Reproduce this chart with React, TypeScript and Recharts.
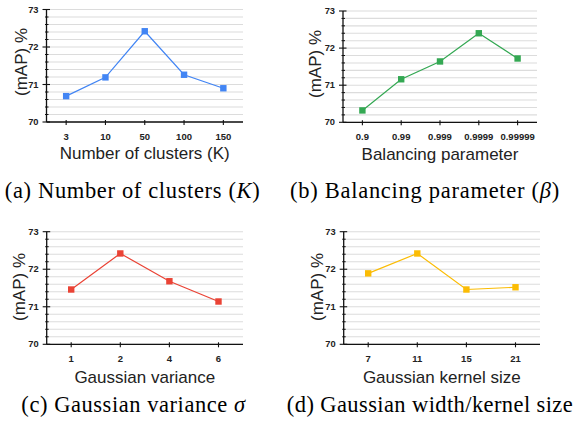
import React from 'react';
import { LineChart, Line, XAxis, YAxis, CartesianGrid } from 'recharts';

const clusterCats = ['3', '10', '50', '100', '150'];
const clusterMap = [70.69, 71.19, 72.42, 71.26, 70.9];

const balanceCats = ['0.9', '0.99', '0.999', '0.9999', '0.99999'];
const balanceMap = [70.32, 71.16, 71.64, 72.4, 71.72];

const varianceCats = ['1', '2', '4', '6'];
const varianceMap = [71.46, 72.42, 71.68, 71.14];

const kernelCats = ['7', '11', '15', '21'];
const kernelMap = [71.89, 72.42, 71.46, 71.52];

const yTicks = [70, 70.2, 70.4, 70.6, 70.8, 71, 71.2, 71.4, 71.6, 71.8, 72, 72.2, 72.4, 72.6, 72.8, 73];
const yMajorLabels = ['70', '71', '72', '73'];

const yTitle = '(mAP) %';

const SANS = 'Arial, "Liberation Sans", Arimo, Helvetica, sans-serif';
const SERIF = '"Times New Roman", "Liberation Serif", Tinos, "Nimbus Roman", Times, serif';

type Panel = {
  left: number; top: number; yw: number; mt: number; mr: number; xh: number; pad: number;
  cats: string[]; vals: number[]; color: string; xTitle: string;
  xtx: number; xty: number; ytx: number; yty: number;
};

const build = (cats: string[], vals: number[]) => cats.map((c, i) => ({ cat: c, v: vals[i] }));

const YTick = (props: any) => {
  const { x, y, payload } = props;
  const ax = x + 8;
  const v = payload.value as number;
  const major = Math.abs(v - Math.round(v)) < 1e-6;
  const idx = major ? Math.round(v) - 70 : -1;
  return (
    <g>
      {major ? (
        <line x1={ax - 4} x2={ax + 3.5} y1={y} y2={y} stroke="#111" strokeWidth={1.1} />
      ) : (
        <line x1={ax - 1.5} x2={ax + 2} y1={y} y2={y} stroke="#111" strokeWidth={1} />
      )}
      {major && (
        <text x={ax - 8} y={y} textAnchor="end" dominantBaseline="central" fontFamily={SANS} fontWeight="bold" fontSize={9.3} fill="#222">
          {yMajorLabels[idx]}
        </text>
      )}
    </g>
  );
};

const XTick = (props: any) => {
  const { x, y, payload } = props;
  return (
    <g>
      <line x1={x} x2={x} y1={y - 2} y2={y + 3} stroke="#111" strokeWidth={1.1} />
      <text x={x} y={y + 14} textAnchor="middle" dominantBaseline="central" fontFamily={SANS} fontWeight="bold" fontSize={9.5} fill="#222">
        {payload.value}
      </text>
    </g>
  );
};

const panels: Panel[] = [
  { left: 0, top: 0, yw: 46.5, mt: 9.5, mr: 47, xh: 48, pad: 19.65, cats: clusterCats, vals: clusterMap, color: '#4285F4',
    xTitle: 'Number of clusters (K)', xtx: 144.7, xty: 153, ytx: 20.7, yty: 62 },
  { left: 287, top: 0, yw: 56, mt: 11, mr: 40, xh: 47.7, pad: 19.4, cats: balanceCats, vals: balanceMap, color: '#34A853',
    xTitle: 'Balancing parameter', xtx: 440, xty: 154.3, ytx: 315.3, yty: 64 },
  { left: 0, top: 220, yw: 46.7, mt: 11.7, mr: 47, xh: 45.7, pad: 24.5, cats: varianceCats, vals: varianceMap, color: '#EA4335',
    xTitle: 'Gaussian variance', xtx: 144.8, xty: 376.7, ytx: 19, yty: 286.5 },
  { left: 287, top: 220, yw: 56.7, mt: 11.7, mr: 37, xh: 45.7, pad: 24.5, cats: kernelCats, vals: kernelMap, color: '#FBBC04',
    xTitle: 'Gaussian kernel size', xtx: 441.8, xty: 376.7, ytx: 317, yty: 287 },
];

const centered = (x: number, y: number): React.CSSProperties => ({
  position: 'absolute', left: x, top: y, transform: 'translate(-50%, -50%)', whiteSpace: 'nowrap', lineHeight: 1,
});

export default function App() {
  return (
    <div style={{ position: 'absolute', left: 0, top: 0, width: 577, height: 429, background: '#fff', overflow: 'hidden' }}>
      {panels.map((p, i) => {
        const SquareDot = (dp: any) => (
          <rect key={`d${i}-${dp.index}`} x={dp.cx - 3.2} y={dp.cy - 3.2} width={6.4} height={6.4} fill={p.color} />
        );
        return (
          <div key={i} style={{ position: 'absolute', left: p.left, top: p.top }}>
            <LineChart width={290} height={170} data={build(p.cats, p.vals)} margin={{ top: p.mt, right: p.mr, left: 0, bottom: 0 }}>
              <CartesianGrid vertical={false} stroke="#dcdcdc" strokeWidth={1.1} />
              <XAxis dataKey="cat" height={p.xh} padding={{ left: p.pad, right: p.pad }} tickSize={0} tickMargin={0}
                tick={<XTick />} interval={0} axisLine={{ stroke: '#111', strokeWidth: 1.3 }} tickLine={false} />
              <YAxis width={p.yw} domain={[70, 73]} ticks={yTicks} interval={0} tickSize={0} tickMargin={8}
                tick={<YTick />} axisLine={{ stroke: '#111', strokeWidth: 1.3 }} tickLine={false} allowDataOverflow />
              <Line type="linear" dataKey="v" stroke={p.color} strokeWidth={1.2} dot={SquareDot} activeDot={false} isAnimationActive={false} />
            </LineChart>
          </div>
        );
      })}
      {panels.map((p, i) => (
        <div key={`xt${i}`} style={{ ...centered(p.xtx, p.xty), fontFamily: SANS, fontSize: 17, color: '#222' }}>{p.xTitle}</div>
      ))}
      {panels.map((p, i) => (
        <div key={`yt${i}`} style={{ ...centered(p.ytx, p.yty), transform: 'translate(-50%, -50%) rotate(-90deg)', fontFamily: SANS, fontSize: 17, color: '#222' }}>{yTitle}</div>
      ))}
      <div style={{ ...centered(132.6, 191), fontFamily: SERIF, fontSize: 22.5, letterSpacing: 0.65, color: '#000' }}>(a) Number of clusters (<i>K</i>)</div>
      <div style={{ ...centered(425, 191), fontFamily: SERIF, fontSize: 22.5, letterSpacing: 0.72, color: '#000' }}>(b) Balancing parameter (<i>β</i>)</div>
      <div style={{ ...centered(133.5, 405), fontFamily: SERIF, fontSize: 22.5, letterSpacing: 0.55, color: '#000' }}>(c) Gaussian variance <i>σ</i></div>
      <div style={{ ...centered(430, 405), fontFamily: SERIF, fontSize: 22.5, letterSpacing: 0.4, color: '#000' }}>(d) Gaussian width/kernel size</div>
    </div>
  );
}
